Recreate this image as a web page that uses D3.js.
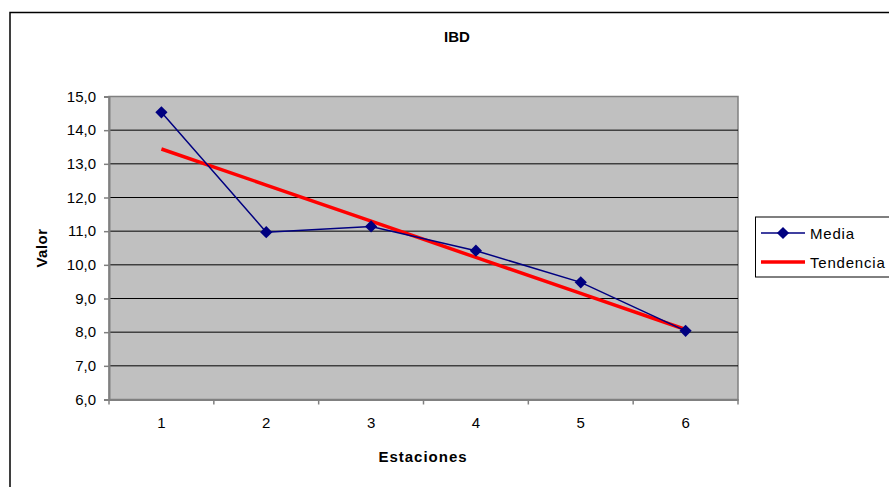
<!DOCTYPE html>
<html>
<head>
<meta charset="utf-8">
<script src="https://cdn.jsdelivr.net/npm/d3@7"></script>
<style>
  body { margin: 0; background: #fff; }
  svg { display: block; font-family: "Liberation Sans", Arial, sans-serif; }
</style>
</head>
<body>
<svg id="chart" width="889" height="487"></svg>
<script>
const stations = ['1', '2', '3', '4', '5', '6']
const media = [14.53, 10.97, 11.14, 10.42, 9.48, 8.04]
const tendencia = [13.44, 12.37, 11.30, 10.22, 9.15, 8.08]
const yTicks = [6, 7, 8, 9, 10, 11, 12, 13, 14, 15]

const plot = { left: 109, right: 738, top: 96.5, bottom: 399.5 }

const svg = d3.select('#chart')

// outer chart frame
svg.append('rect')
    .attr('x', 10).attr('y', 12.5)
    .attr('width', 900).attr('height', 500)
    .attr('fill', '#fff')
    .attr('stroke', '#000')
    .attr('stroke-width', 1.5)

const x = d3.scaleBand().domain(stations).range([plot.left, plot.right])
const y = d3.scaleLinear().domain([6, 15]).range([plot.bottom, plot.top])
const cx = (d) => x(d) + x.bandwidth() / 2
const fmt = (v) => d3.format('.1f')(v).replace('.', ',')

// plot area
svg.append('rect')
    .attr('x', plot.left).attr('y', plot.top)
    .attr('width', plot.right - plot.left).attr('height', plot.bottom - plot.top)
    .attr('fill', '#c0c0c0')
    .attr('stroke', '#808080')
    .attr('stroke-width', 1.5)

// gridlines
svg.append('g')
    .selectAll('line')
    .data(yTicks.filter(t => t > 6 && t < 15))
    .enter().append('line')
    .attr('x1', plot.left).attr('x2', plot.right)
    .attr('y1', d => y(d)).attr('y2', d => y(d))
    .attr('stroke', '#000')
    .attr('stroke-width', 1)

// y axis
const yAxis = svg.append('g')
    .attr('transform', `translate(${plot.left},0)`)
    .call(d3.axisLeft(y).tickValues(yTicks).tickFormat(fmt).tickSize(5).tickPadding(8))
yAxis.select('.domain').attr('stroke', '#808080').attr('stroke-width', 2)
yAxis.selectAll('.tick line').attr('stroke', '#808080').attr('stroke-width', 1.5)
yAxis.selectAll('.tick text').attr('fill', '#000').style('font-size', '15px').style('font-family', 'Liberation Sans, Arial, sans-serif')

// x axis with ticks between categories
const xAxis = svg.append('g')
    .attr('transform', `translate(0,${plot.bottom})`)
    .call(d3.axisBottom(x).tickSize(0).tickPadding(18))
xAxis.select('.domain').attr('stroke', '#808080').attr('stroke-width', 2)
xAxis.selectAll('.tick text').attr('fill', '#000').style('font-size', '15px').style('font-family', 'Liberation Sans, Arial, sans-serif')
xAxis.selectAll('line.sep')
    .data(stations.concat(['end']))
    .enter().append('line')
    .attr('class', 'sep')
    .attr('x1', (d, i) => plot.left + i * x.bandwidth())
    .attr('x2', (d, i) => plot.left + i * x.bandwidth())
    .attr('y1', 0).attr('y2', 5)
    .attr('stroke', '#808080')
    .attr('stroke-width', 1.5)

// trend line
svg.append('path')
    .datum(tendencia)
    .attr('fill', 'none')
    .attr('stroke', '#ff0000')
    .attr('stroke-width', 3.5)
    .attr('d', d3.line().x((d, i) => cx(stations[i])).y(d => y(d)))

// media series
svg.append('path')
    .datum(media)
    .attr('fill', 'none')
    .attr('stroke', '#000080')
    .attr('stroke-width', 1.5)
    .attr('d', d3.line().x((d, i) => cx(stations[i])).y(d => y(d)))

const diamond = d3.symbol().type(d3.symbolDiamond2).size(95)

svg.append('g')
    .selectAll('path')
    .data(media)
    .enter().append('path')
    .attr('d', diamond)
    .attr('transform', (d, i) => `translate(${cx(stations[i])},${y(d)})`)
    .attr('fill', '#000080')

// titles
svg.append('text')
    .attr('x', 457).attr('y', 42)
    .attr('text-anchor', 'middle')
    .style('font-size', '15px').style('font-weight', 'bold')
    .text('IBD')

svg.append('text')
    .attr('x', 423).attr('y', 462)
    .attr('text-anchor', 'middle')
    .style('font-size', '15px').style('font-weight', 'bold')
    .style('letter-spacing', '1px')
    .text('Estaciones')

svg.append('text')
    .attr('transform', `translate(47,${(plot.top + plot.bottom) / 2}) rotate(-90)`)
    .attr('text-anchor', 'middle')
    .style('font-size', '15px').style('font-weight', 'bold')
    .style('letter-spacing', '0.5px')
    .text('Valor')

// legend
const legend = svg.append('g')
legend.append('rect')
    .attr('x', 755.5).attr('y', 217)
    .attr('width', 150).attr('height', 60)
    .attr('fill', '#fff')
    .attr('stroke', '#000')
    .attr('stroke-width', 1)

legend.append('line')
    .attr('x1', 761).attr('x2', 805).attr('y1', 233).attr('y2', 233)
    .attr('stroke', '#000080').attr('stroke-width', 1.5)
legend.append('path')
    .attr('d', diamond)
    .attr('transform', 'translate(783,233)')
    .attr('fill', '#000080')
legend.append('text')
    .attr('x', 810).attr('y', 238.5)
    .style('font-size', '15px').style('letter-spacing', '0.8px')
    .text('Media')

legend.append('line')
    .attr('x1', 761).attr('x2', 805).attr('y1', 262).attr('y2', 262)
    .attr('stroke', '#ff0000').attr('stroke-width', 3.5)
legend.append('text')
    .attr('x', 810).attr('y', 267.5)
    .style('font-size', '15px').style('letter-spacing', '0.8px')
    .text('Tendencia')
</script>
</body>
</html>
